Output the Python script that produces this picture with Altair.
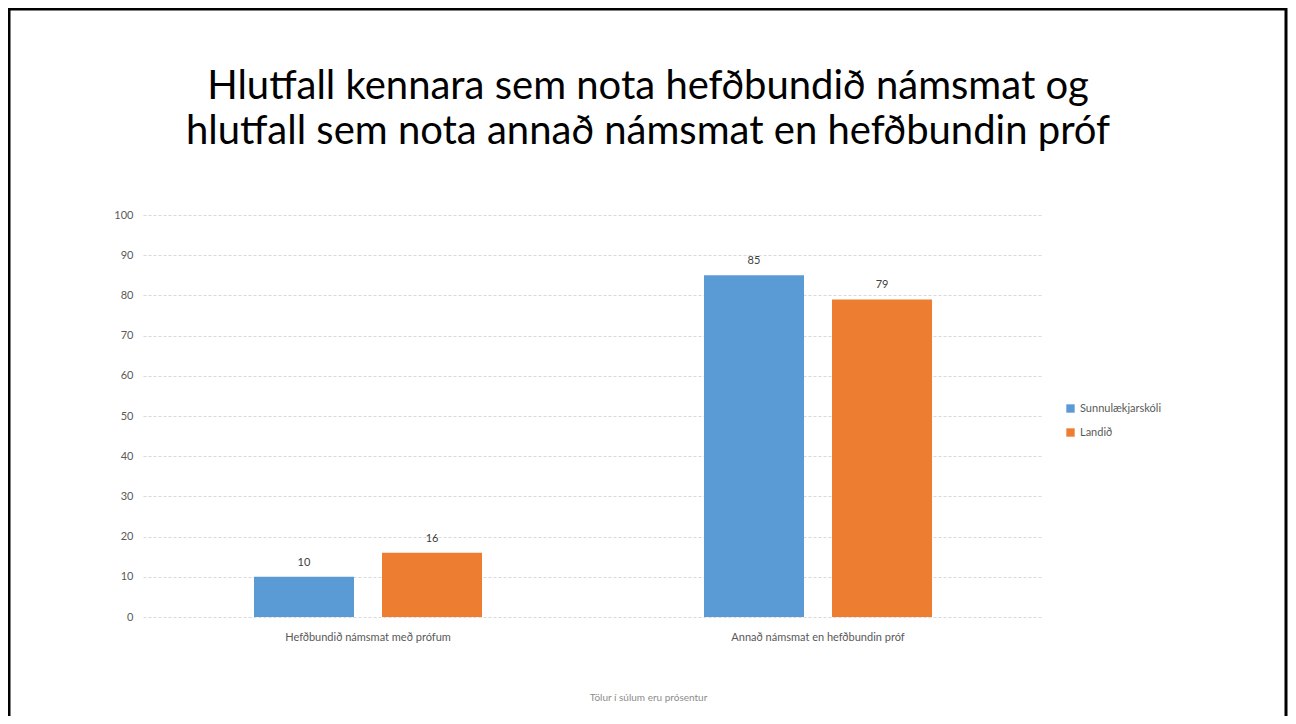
import altair as alt
import pandas as pd

categories = ["Hefðbundið námsmat með prófum", "Annað námsmat en hefðbundin próf"]
series = ["Sunnulækjarskóli", "Landið"]
sunnulaekjarskoli = [10, 85]
landid = [16, 79]
colors = ["#5B9BD5", "#ED7D31"]
title_lines = ["Hlutfall kennara sem nota hefðbundið námsmat og",
               "hlutfall sem nota annað námsmat en hefðbundin próf"]
note = "Tölur í súlum eru prósentur"
y_ticks = list(range(0, 101, 10))

rows = []
for i, c in enumerate(categories):
    rows.append({"cat": c, "series": series[0], "value": sunnulaekjarskoli[i]})
    rows.append({"cat": c, "series": series[1], "value": landid[i]})
df = pd.DataFrame(rows)

FONT = "Lato"
W, H = 900, 402

x = alt.X("cat:N", sort=categories,
          scale=alt.Scale(paddingInner=0, paddingOuter=0),
          axis=alt.Axis(title=note, titleX=505, titleY=75, titleFontSize=10,
                        titleFontWeight="normal", titleColor="#8c8c8c", titleFont=FONT,
                        labelAngle=0, labelFontSize=11, labelColor="#595959", labelFont=FONT,
                        labelPadding=14, domain=False, ticks=False))
xo = alt.XOffset("series:N", sort=series,
                 scale=alt.Scale(paddingInner=0.21875, paddingOuter=0.867))
y = alt.Y("value:Q", scale=alt.Scale(domain=[0, 100], nice=False),
          axis=alt.Axis(title=None, values=y_ticks, labelFontSize=11, labelColor="#595959",
                        labelFont=FONT, labelPadding=10, domain=False, ticks=False,
                        grid=True, gridColor="#d9d9d9", gridDash=[3, 2], gridWidth=1))

base = alt.Chart(df)
bars = base.mark_bar().encode(
    x=x, xOffset=xo, y=y,
    color=alt.Color("series:N", sort=series,
                    scale=alt.Scale(domain=series, range=colors),
                    legend=alt.Legend(title=None, orient="none", legendX=922, legendY=188,
                                      symbolType="square", symbolSize=70, symbolStrokeWidth=0,
                                      labelFontSize=11, labelColor="#595959", labelFont=FONT,
                                      rowPadding=12, labelOffset=4)),
)
labels = base.mark_text(baseline="bottom", dy=-9, fontSize=11, color="#404040", font=FONT).encode(
    x=alt.X("cat:N", sort=categories), xOffset=xo, y="value:Q", text="value:Q")

border = alt.Chart(pd.DataFrame({"k": [0]})).mark_rect(
    fill="transparent", stroke="#000000", strokeWidth=3).encode(
    x=alt.value(-134), x2=alt.value(1143), y=alt.value(-206), y2=alt.value(520))

chart = alt.layer(bars, labels, border).properties(
    width=W, height=H,
    title=alt.TitleParams(title_lines, fontSize=40, font=FONT, fontWeight="normal",
                          color="#000000", anchor="middle", dx=55, offset=-144, lineHeight=45),
    autosize=alt.AutoSizeParams(type="none"),
    padding={"left": 135, "top": 207, "right": 245, "bottom": 99},
    background="white",
).configure_view(strokeWidth=0, stroke="transparent")

chart.save("out.html", embed_options={"renderer": "svg", "actions": False})
